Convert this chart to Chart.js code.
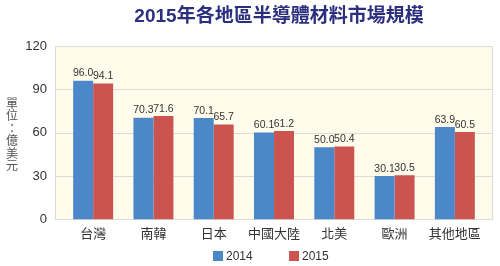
<!DOCTYPE html>
<html>
<head>
<meta charset="utf-8">
<script src="https://cdn.jsdelivr.net/npm/chart.js@4.4.0/dist/chart.umd.min.js"></script>
<style>
  html, body { margin: 0; padding: 0; background: #ffffff; }
  #wrap { width: 500px; height: 266px; }
</style>
</head>
<body>
<div id="wrap"><canvas id="chart" width="500" height="266"></canvas></div>
<script>
// datos del gráfico
const regions = ['台灣', '南韓', '日本', '中國大陸', '北美', '歐洲', '其他地區'];
const values2014 = [96.0, 70.3, 70.1, 60.1, 50.0, 30.1, 63.9];
const values2015 = [94.1, 71.6, 65.7, 61.2, 50.4, 30.5, 60.5];
const seriesNames = ['2014', '2015'];
const seriesColors = ['#4b87c9', '#cb5350'];
const yTicks = [0, 30, 60, 90, 120];
const chartTitle = '2015年各地區半導體材料市場規模';
const yTitle = '單位：億美元';

const FONT = '"Liberation Sans", "Noto Sans CJK TC", sans-serif';

// fondo crema, rejilla y borde del área del gráfico
const plotBackground = {
    id: 'plotBackground',
    beforeDatasetsDraw(chart) {
        const { ctx, chartArea } = chart;
        const y = chart.scales.y;
        const left = chartArea.left - 8;
        const right = chartArea.right + 7;
        ctx.save();
        ctx.fillStyle = '#fffcec';
        ctx.fillRect(left, chartArea.top, right - left, chartArea.bottom - chartArea.top);
        ctx.strokeStyle = '#dcdcd4';
        ctx.lineWidth = 1;
        yTicks.forEach(t => {
            const py = Math.round(y.getPixelForValue(t)) + 0.5;
            ctx.beginPath();
            ctx.moveTo(left, py);
            ctx.lineTo(right, py);
            ctx.stroke();
        });
        ctx.strokeRect(Math.round(left) + 0.5, Math.round(chartArea.top) + 0.5,
            Math.round(right - left), Math.round(chartArea.bottom - chartArea.top));
        ctx.restore();
    }
};

// etiquetas de valor encima de cada barra
const valueLabels = {
    id: 'valueLabels',
    afterDatasetsDraw(chart) {
        const { ctx } = chart;
        ctx.save();
        ctx.font = '10.5px ' + FONT;
        ctx.fillStyle = '#333333';
        ctx.textAlign = 'center';
        ctx.textBaseline = 'bottom';
        chart.data.datasets.forEach((ds, di) => {
            const meta = chart.getDatasetMeta(di);
            meta.data.forEach((bar, i) => {
                ctx.fillText(ds.data[i].toFixed(1), bar.x, bar.y - 2);
            });
        });
        ctx.restore();
    }
};

// título, título vertical del eje y y leyenda
const titles = {
    id: 'titles',
    afterDraw(chart) {
        const { ctx } = chart;
        ctx.save();
        ctx.fillStyle = '#2b2f7e';
        ctx.font = 'bold 19px ' + FONT;
        ctx.textAlign = 'center';
        ctx.textBaseline = 'middle';
        ctx.fillText(chartTitle, 279, 17);

        ctx.fillStyle = '#555555';
        ctx.font = '12px "Noto Sans CJK TC", sans-serif';
        [...yTitle].forEach((ch, i) => {
            ctx.fillText(ch, 12, 103 + i * 12.5);
        });

        // leyenda
        ctx.font = '12px ' + FONT;
        ctx.textAlign = 'left';
        chart.data.datasets.forEach((ds, i) => {
            const x = 213 + i * 76;
            ctx.fillStyle = ds.backgroundColor;
            ctx.fillRect(x, 251, 10, 10);
            ctx.fillStyle = '#333333';
            ctx.fillText(ds.label, x + 13, 256.5);
        });
        ctx.restore();
    }
};

new Chart(document.getElementById('chart'), {
    type: 'bar',
    data: {
        labels: regions,
        datasets: [
            { label: seriesNames[0], data: values2014, backgroundColor: seriesColors[0] },
            { label: seriesNames[1], data: values2015, backgroundColor: seriesColors[1] }
        ]
    },
    options: {
        responsive: false,
        animation: false,
        layout: { padding: { top: 46, right: 15, left: 0, bottom: 17 } },
        datasets: {
            bar: { categoryPercentage: 0.663, barPercentage: 1.0 }
        },
        scales: {
            x: {
                grid: { display: false, drawTicks: false },
                border: { display: false },
                ticks: { color: '#333333', font: { family: FONT, size: 13 }, padding: 7 }
            },
            y: {
                min: 0,
                max: 120,
                afterFit(scale) { scale.width = 63; },
                afterBuildTicks(scale) { scale.ticks = yTicks.map(v => ({ value: v })); },
                grid: { display: false, drawTicks: false },
                border: { display: false },
                ticks: { color: '#333333', font: { family: FONT, size: 13 }, padding: 16 }
            }
        },
        plugins: {
            legend: { display: false },
            title: { display: false },
            tooltip: { enabled: false }
        }
    },
    plugins: [plotBackground, valueLabels, titles]
});
</script>
</body>
</html>
